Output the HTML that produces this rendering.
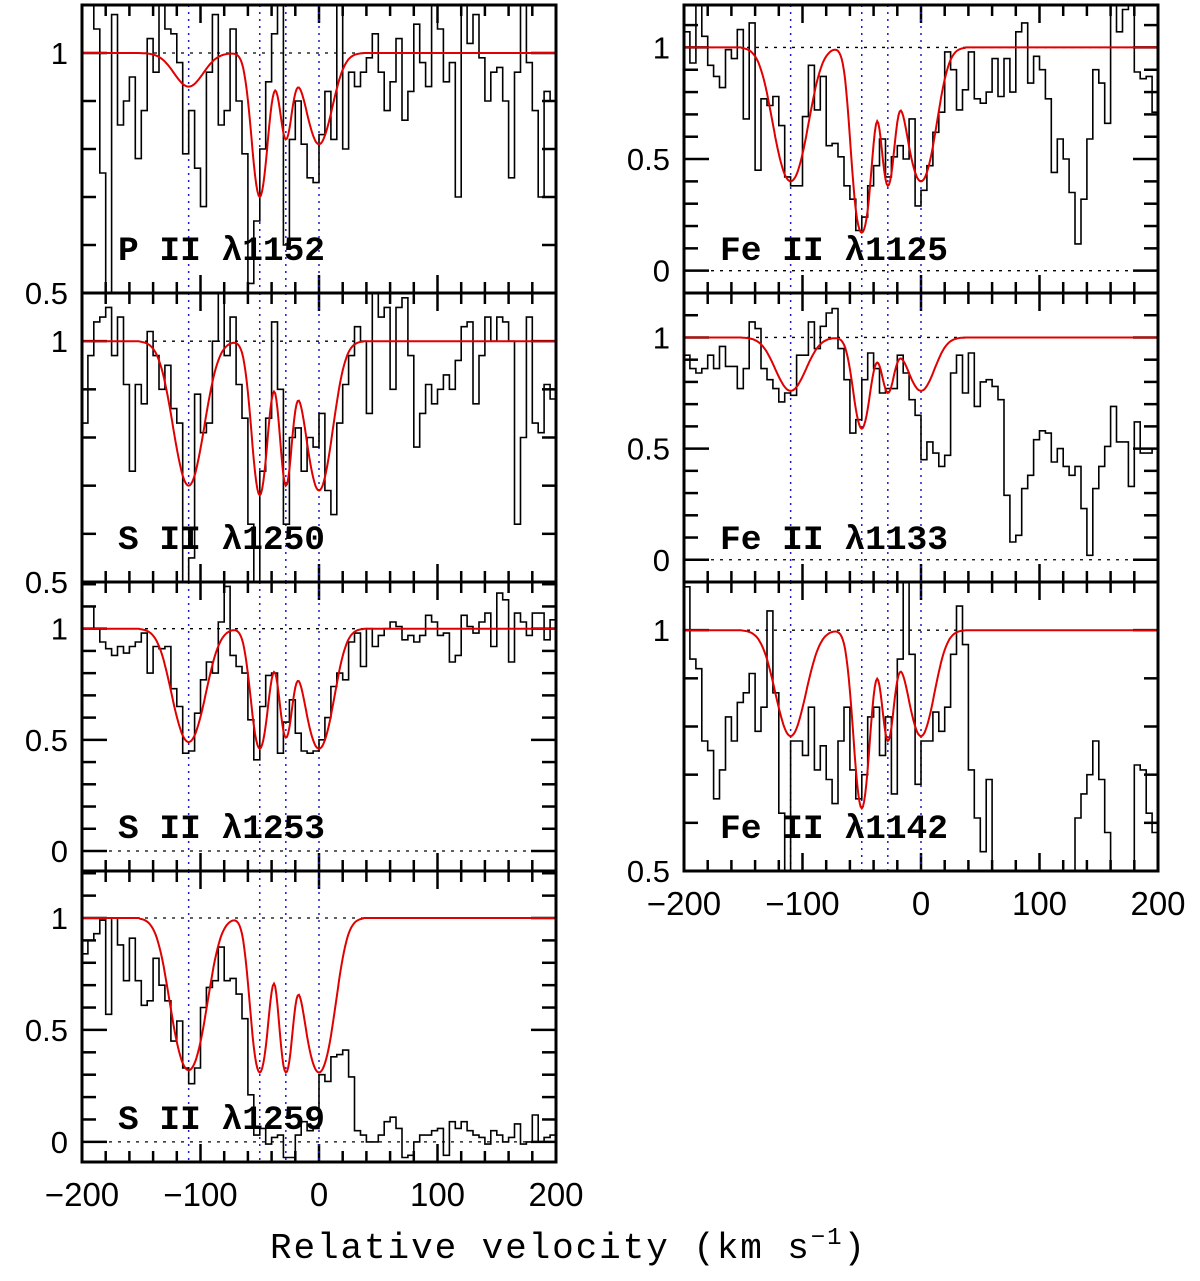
<!DOCTYPE html>
<html><head><meta charset="utf-8"><style>
html,body{margin:0;padding:0;background:#fff;}
svg{display:block;}
</style></head><body>
<svg id="chart" width="1200" height="1281" viewBox="0 0 1200 1281" xmlns="http://www.w3.org/2000/svg"></svg>
<script>
// ---- Data ----
const binStart = -200;   // km/s, first bin left edge
const binWidth = 5;      // km/s
const compVel = [-110, -50, -28, 0];       // component velocities (km/s)
const compB = [17, 9, 7, 15];               // component widths (km/s)
const modelRange = [-152, 38];              // model non-unity range
const xTickLabels = [-200, -100, 0, 100, 200];

const panelNames = ["P II λ1152","S II λ1250","S II λ1253","S II λ1259","Fe II λ1125","Fe II λ1133","Fe II λ1142"];
const yRanges = [[0.5,1.1],[0.5,1.1],[-0.09,1.21],[-0.09,1.21],[-0.1,1.19],[-0.1,1.2],[0.5,1.1]];
const yTickLabels = [["1","0.5"],["1","0.5"],["1","0.5","0"],["1","0.5","0"],["1","0.5","0"],["1","0.5","0"],["1","0.5"]];
// model minimum flux at each component
const minP1152 = [0.93,0.70,0.82,0.81];
const minS1250 = [0.70,0.68,0.70,0.69];
const minS1253 = [0.49,0.46,0.51,0.46];
const minS1259 = [0.32,0.31,0.31,0.31];
const minF1125 = [0.40,0.17,0.38,0.40];
const minF1133 = [0.76,0.59,0.75,0.76];
const minF1142 = [0.78,0.63,0.77,0.78];

const fluxP1152 = [1.1,1.1,1.05,0.75,0.5,1.08,0.85,0.9,0.95,0.78,0.88,1.03,0.96,1.1,1.05,1.04,0.98,0.79,0.88,0.76,0.68,0.96,1.08,0.85,0.88,1.05,0.9,0.79,0.52,0.65,0.8,0.94,1.04,1.1,0.6,0.82,0.9,0.81,0.74,0.73,0.83,0.92,0.82,1.1,0.8,0.96,0.93,0.96,0.99,1.04,0.96,0.88,0.94,1.03,0.86,0.92,1.06,0.98,0.93,1.1,1.05,0.94,0.98,0.7,1.1,1.02,1.08,0.99,0.9,0.96,0.97,0.9,0.74,0.96,1.1,0.98,0.88,0.7,0.92,0.9];
const fluxS1250 = [0.83,0.97,1.04,1.05,1.07,0.97,1.05,0.91,0.73,0.91,0.87,1.02,0.97,0.9,0.95,0.86,0.83,0.5,0.55,0.89,0.81,0.83,1.0,1.1,0.97,1.05,0.91,0.84,0.62,0.5,0.73,0.84,1.04,0.9,0.62,0.8,0.82,0.73,0.8,0.78,0.85,0.69,0.64,0.83,0.91,0.97,1.03,1.0,0.85,1.1,1.05,1.07,0.9,1.07,1.09,0.97,0.78,0.85,0.91,0.87,0.9,0.93,0.9,0.96,1.03,1.04,0.87,0.97,1.05,1.0,1.05,1.04,1.0,0.62,0.8,1.05,0.83,0.81,0.91,0.88];
const fluxS1253 = [1.1,1.1,1.0,0.94,0.91,0.88,0.92,0.89,0.92,0.94,0.98,0.8,0.92,0.91,0.92,0.73,0.65,0.44,0.45,0.62,0.77,0.85,0.8,1.03,1.19,0.88,0.83,0.8,0.59,0.41,0.65,0.79,0.8,0.44,0.58,0.68,0.53,0.45,0.44,0.45,0.5,0.6,0.74,0.8,0.77,0.94,0.98,0.83,1.0,0.92,0.97,1.0,1.03,1.01,0.95,0.97,0.94,0.97,1.06,1.03,0.97,0.98,0.85,0.88,1.06,1.01,0.98,1.03,1.07,0.92,1.16,1.13,0.85,1.07,1.03,0.97,1.07,1.07,0.95,1.04];
const fluxS1259 = [0.84,0.9,0.93,0.99,0.57,1.0,0.88,0.72,0.91,0.72,0.61,0.63,0.82,0.7,0.63,0.45,0.54,0.33,0.26,0.33,0.6,0.69,0.72,0.87,0.72,0.73,0.66,0.55,0.21,0.03,0.06,-0.01,0.02,0.03,-0.07,-0.07,0.03,0.09,0.05,0.06,0.3,0.27,0.38,0.39,0.41,0.29,0.05,0.03,0.0,0.0,0.03,0.09,0.11,0.06,-0.07,-0.06,0.0,0.03,0.03,0.05,0.06,-0.06,0.09,0.06,0.09,0.05,0.03,0.02,-0.01,0.05,0.03,0.0,0.02,0.08,-0.01,0.0,0.12,0.0,0.02,0.03];
const fluxF1125 = [1.07,0.93,1.19,1.05,0.92,0.87,0.82,0.99,0.95,1.08,0.68,1.11,0.45,0.77,0.74,0.78,0.65,0.42,0.38,0.38,0.69,0.92,0.72,0.87,0.56,0.57,0.51,0.38,0.32,0.18,0.24,0.38,0.47,0.59,0.42,0.51,0.56,0.5,0.68,0.29,0.36,0.47,0.62,0.71,0.98,0.9,0.72,0.81,0.98,0.77,0.75,0.8,0.95,0.78,0.95,0.8,1.07,1.11,0.84,0.96,0.9,0.77,0.44,0.59,0.5,0.35,0.12,0.32,0.59,0.9,0.84,0.66,1.19,1.07,1.17,1.19,0.89,0.86,0.87,0.71];
const fluxF1133 = [0.92,0.86,0.84,0.86,0.92,0.86,0.96,0.87,0.87,0.77,0.86,1.07,1.04,0.86,0.81,0.77,0.71,0.75,0.74,0.92,0.92,1.07,0.95,1.05,1.11,1.13,0.95,0.81,0.57,0.63,0.81,0.93,0.86,0.75,0.77,0.77,0.92,0.84,0.72,0.65,0.45,0.53,0.48,0.42,0.47,0.84,0.92,0.75,0.93,0.69,0.8,0.81,0.78,0.72,0.29,0.08,0.11,0.32,0.38,0.54,0.58,0.57,0.44,0.5,0.42,0.38,0.42,0.23,0.02,0.32,0.42,0.51,0.69,0.53,0.53,0.33,0.62,0.48,0.48,0.5];
const fluxF1142 = [1.09,0.94,0.92,0.77,0.75,0.65,0.71,0.82,0.77,0.85,0.87,0.91,0.79,0.84,1.04,0.87,0.62,0.5,0.77,0.77,0.74,0.84,0.71,0.76,0.69,0.64,0.77,0.84,0.71,0.65,0.7,0.82,0.84,0.74,0.82,0.66,0.94,1.1,0.95,0.68,0.77,0.77,0.83,0.79,0.84,0.95,1.05,0.97,0.71,0.61,0.54,0.69,0.5,0.3,0.3,0.3,0.3,0.3,0.3,0.3,0.3,0.3,0.3,0.3,0.3,0.3,0.61,0.66,0.7,0.77,0.69,0.58,0.45,0.3,0.3,0.4,0.72,0.71,0.62,0.58];

const panelFlux = [fluxP1152,fluxS1250,fluxS1253,fluxS1259,fluxF1125,fluxF1133,fluxF1142];
const panelMins = [minP1152,minS1250,minS1253,minS1259,minF1125,minF1133,minF1142];

// ---- Layout ----
const boxes = [
  [82,5,556,293],[82,293,556,582],[82,582,556,871],[82,871,556,1162],
  [684,5,1158,293],[684,293,1158,582],[684,582,1158,871]
];
const NS = "http://www.w3.org/2000/svg";
const svg = document.getElementById("chart");
function mk(tag, attrs, parent){
  const e = document.createElementNS(NS, tag);
  for (const k in attrs) e.setAttribute(k, attrs[k]);
  (parent||svg).appendChild(e);
  return e;
}
function gauss(v, c, b){ const d=(v-c)/b; return Math.exp(-d*d); }
function solveTau(mins){
  let tau = mins.map(m => -Math.log(m));
  for (let it=0; it<30; it++){
    tau = mins.map((m,i) => {
      let other = 0;
      for (let j=0;j<mins.length;j++) if (j!==i) other += tau[j]*gauss(compVel[i],compVel[j],compB[j]);
      return Math.max(0, -Math.log(m) - other);
    });
  }
  return tau;
}

boxes.forEach((bx, p) => {
  const [x0,y0,x1,y1] = bx;
  const [ymin,ymax] = yRanges[p];
  const X = v => x0 + (v + 200) / 400 * (x1 - x0);
  const Y = f => y1 - (f - ymin) / (ymax - ymin) * (y1 - y0);
  const g = mk("g", {});
  
  
  const cid = "clip"+p;
  const cp = mk("clipPath", {id:cid}, g);
  mk("rect", {x:x0, y:y0, width:x1-x0, height:y1-y0}, cp);

  // ticks (drawn first so the curves lie on top)
  const tk = mk("g", {stroke:"#000", "stroke-width":2.5}, g);
  
  
  for (let v=-200; v<=200; v+=20){
    const major = (v % 100 === 0);
    const L = major ? 18 : 11;
    mk("line", {x1:X(v), x2:X(v), y1:y1, y2:y1-L}, tk);
    mk("line", {x1:X(v), x2:X(v), y1:y0, y2:y0+L}, tk);
  }
  const fStart = Math.ceil(ymin*10-1e-6), fEnd = Math.floor(ymax*10+1e-6);
  for (let k=fStart; k<=fEnd; k++){
    const f = k/10;
    const major = (k % 5 === 0);
    const L = major ? 25 : 14;
    mk("line", {x1:x0, x2:x0+L, y1:Y(f), y2:Y(f)}, tk);
    mk("line", {x1:x1, x2:x1-L, y1:Y(f), y2:Y(f)}, tk);
  }

  const inner = mk("g", {"clip-path":"url(#"+cid+")"}, g);

  // reference dotted lines
  [1,0].forEach(lv => {
    if (lv>ymin && lv<ymax){
      const l = mk("line", {x1:x0, x2:x1, y1:Y(lv), y2:Y(lv), stroke:"#000", "stroke-width":1.3, "stroke-dasharray":"3,6"}, inner);
      
      
    }
  });
  // component markers
  compVel.forEach(cv => {
    const l = mk("line", {x1:X(cv), x2:X(cv), y1:y0, y2:y1, stroke:"#1a1ad0", "stroke-width":1.5, "stroke-dasharray":"2,5"}, inner);
    
    
  });
  // data histogram
  const fl = panelFlux[p];
  let d = "";
  fl.forEach((f,i) => {
    const va = binStart + i*binWidth, vb = va + binWidth;
    d += (i===0 ? "M" : "L") + X(va).toFixed(1) + "," + Y(f).toFixed(1) + "L" + X(vb).toFixed(1) + "," + Y(f).toFixed(1);
  });
  const h = mk("path", {d:d, fill:"none", stroke:"#000", "stroke-width":1.6}, inner);
  
  
  // model
  const tau = solveTau(panelMins[p]);
  let md = "";
  for (let v=-200; v<=200; v+=1){
    let f = 1;
    if (v>modelRange[0] && v<modelRange[1]){
      let t = 0;
      compVel.forEach((c,j)=>{ t += tau[j]*gauss(v,c,compB[j]); });
      f = Math.exp(-t);
    }
    md += (v===-200?"M":"L") + X(v).toFixed(1) + "," + Y(f).toFixed(1);
  }
  const m = mk("path", {d:md, fill:"none", stroke:"#e00000", "stroke-width":2}, inner);
  
  

  // frame
  const fr = mk("rect", {x:x0, y:y0, width:x1-x0, height:y1-y0, fill:"none", stroke:"#000", "stroke-width":3}, g);
  
  

  // y labels
  yTickLabels[p].forEach(lbl => {
    const t = mk("text", {x:x0-14, y:Y(parseFloat(lbl))+11, "text-anchor":"end", "font-family":"Liberation Sans, sans-serif", "font-size":31, fill:"#000"}, g);
    t.textContent = lbl;
    
    
  });
  // panel label
  const pl = mk("text", {x:x0+36, y:y1-33, "font-family":"Liberation Mono, DejaVu Sans Mono, monospace", "font-weight":"bold", "font-size":34, fill:"#000", "xml:space":"preserve", textLength:(p>=4?228:207), lengthAdjust:"spacingAndGlyphs"}, g);
  pl.textContent = panelNames[p].replace(" II ", "  II  ");
  
  
  // x labels on bottom panels
  if (p===3 || p===6){
    xTickLabels.forEach(v => {
      const t = mk("text", {x:X(v), y:y1+44, "text-anchor":"middle", "font-family":"Liberation Sans, sans-serif", "font-size":33, fill:"#000"}, g);
      t.textContent = (v<0 ? "\u2212" + Math.abs(v) : String(v));
      
      
    });
  }
});

// axis title
const tt = mk("text", {x:270, y:1258, "font-family":"Liberation Mono, DejaVu Sans Mono, monospace", "font-size":36, fill:"#000", textLength:595, lengthAdjust:"spacing"});


tt.appendChild(document.createTextNode("Relative velocity (km s"));
const sup = mk("tspan", {dy:-14, "font-size":24}, tt);
sup.textContent = "\u22121";
const cl = mk("tspan", {dy:14}, tt);
cl.textContent = ")";
</script>
</body></html>
